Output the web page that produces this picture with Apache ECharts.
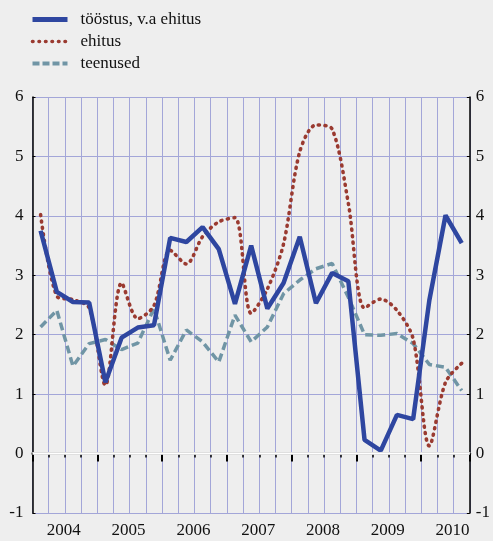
<!DOCTYPE html>
<html>
<head>
<meta charset="utf-8">
<script src="https://cdn.jsdelivr.net/npm/echarts@6/dist/echarts.min.js"></script>
<style>
    html, body { margin:0; padding:0; background:#eeeeee; }
    #chart { width:493px; height:541px; }
</style>
</head>
<body>
<div id="chart"></div>
<script>
    // kvartalid 2004 I - 2010 III
    let years = ['2004','2005','2006','2007','2008','2009','2010']
    let quarters = []
    for (let y = 0; y < years.length; y++) {
        for (let q = 1; q <= 4; q++) {
            if (years[y] === '2010' && q > 3) break
            quarters.push(years[y] + ' Q' + q)
        }
    }
    let yTicks = [-1, 0, 1, 2, 3, 4, 5, 6]

    let toostus = [3.75,2.72,2.55,2.54,1.2,1.95,2.12,2.16,3.63,3.56,3.81,3.44,2.52,3.5,2.44,2.87,3.65,2.53,3.04,2.9,0.23,0.05,0.65,0.58,2.58,4.01,3.54]
    let ehitus = [4.02,2.65,2.59,2.45,1.15,2.87,2.27,2.49,3.42,3.19,3.65,3.9,3.97,2.36,2.77,3.53,5.08,5.53,5.46,4.21,2.45,2.6,2.41,1.93,0.13,1.2,1.52]
    let teenused = [2.13,2.41,1.47,1.85,1.92,1.75,1.86,2.44,1.57,2.08,1.88,1.54,2.33,1.88,2.13,2.69,2.92,3.11,3.2,2.63,2.0,1.99,2.02,1.85,1.5,1.45,1.06]

    let font = 'Liberation Serif'
    let gridColor = '#a3a6d8'
    let blue = '#2e46a0'
    let red = '#9a3a30'
    let teal = '#7095a5'

    let myChart = echarts.init(document.getElementById('chart'))
    let option = {
        backgroundColor:'#eeeeee',
        animation:false,
        legend:{
            orient:'vertical',
            left:30,
            top:11,
            padding:0,
            itemWidth:35,
            itemHeight:14,
            itemGap:5,
            itemStyle:{ opacity:0 },
            textStyle:{
                fontFamily:font,
                fontSize:17,
                color:'#111',
                padding:[0,0,0,8]
            },
            data:[
                { name:'tööstus, v.a ehitus', lineStyle:{ width:5, color:blue } },
                { name:'ehitus', lineStyle:{ width:3.6, color:red, type:[0.5,6], cap:'round' } },
                { name:'teenused', lineStyle:{ width:4, color:teal, type:[7,3] } }
            ]
        },
        grid:{
            left:32.5,
            right:23,
            top:97,
            bottom:28
        },
        xAxis:[
            {
                type:'category',
                data:quarters,
                boundaryGap:true,
                axisLine:{ lineStyle:{ color:'#808080', width:3 } },
                axisTick:{ show:true, interval:0, length:4, lineStyle:{ color:'#000', width:1.5 } },
                axisLabel:{
                    interval:0,
                    margin:9,
                    fontFamily:font,
                    fontSize:17,
                    color:'#111',
                    padding:[0,0,0,14],
                    formatter:function (value, index) {
                        if (index % 4 === 1) {
                            return value.slice(0,4)
                        }
                        return ''
                    }
                },
                splitLine:{ show:true, interval:0, lineStyle:{ color:gridColor, width:1 } }
            },
            {
                type:'category',
                data:quarters,
                boundaryGap:true,
                position:'bottom',
                axisLine:{ show:false },
                axisTick:{
                    show:true,
                    length:8,
                    lineStyle:{ color:'#000', width:2 },
                    interval:function (index) { return index % 4 === 0 }
                },
                axisLabel:{ show:false },
                splitLine:{ show:false }
            }
        ],
        yAxis:[
            {
                type:'value',
                min:yTicks[0],
                max:yTicks[yTicks.length-1],
                interval:1,
                position:'left',
                axisLine:{ show:true, lineStyle:{ color:'#000', width:1.5 } },
                axisTick:{ show:true, inside:true, length:3, lineStyle:{ color:'#000' } },
                axisLabel:{ fontFamily:font, fontSize:17, color:'#111', margin:9 },
                splitLine:{ show:true, lineStyle:{ color:gridColor, width:1 } }
            },
            {
                type:'value',
                min:yTicks[0],
                max:yTicks[yTicks.length-1],
                interval:1,
                position:'right',
                axisLine:{ show:true, lineStyle:{ color:'#000', width:1.5 } },
                axisTick:{ show:true, inside:true, length:3, lineStyle:{ color:'#000' } },
                axisLabel:{ fontFamily:font, fontSize:17, color:'#111', margin:6 },
                splitLine:{ show:false }
            }
        ],
        series:[
            {
                name:'teenused',
                type:'line',
                data:teenused,
                showSymbol:false,
                symbol:'none',
                itemStyle:{ color:teal },
                lineStyle:{ color:teal, width:3.5, type:[8,4] },
                markLine:{
                    silent:true,
                    symbol:'none',
                    label:{ show:false },
                    lineStyle:{ color:'#ffffff', width:2.5, type:'solid' },
                    data:[{ yAxis:0 }]
                },
                z:2
            },
            {
                name:'ehitus',
                type:'line',
                data:ehitus,
                showSymbol:false,
                symbol:'none',
                smooth:0.3,
                itemStyle:{ color:red },
                lineStyle:{ color:red, width:3.6, type:[1,5.5], cap:'round' },
                z:3
            },
            {
                name:'tööstus, v.a ehitus',
                type:'line',
                data:toostus,
                showSymbol:false,
                symbol:'none',
                itemStyle:{ color:blue },
                lineStyle:{ color:blue, width:4.5 },
                z:4
            }
        ]
    }
    myChart.setOption(option)
</script>
</body>
</html>
